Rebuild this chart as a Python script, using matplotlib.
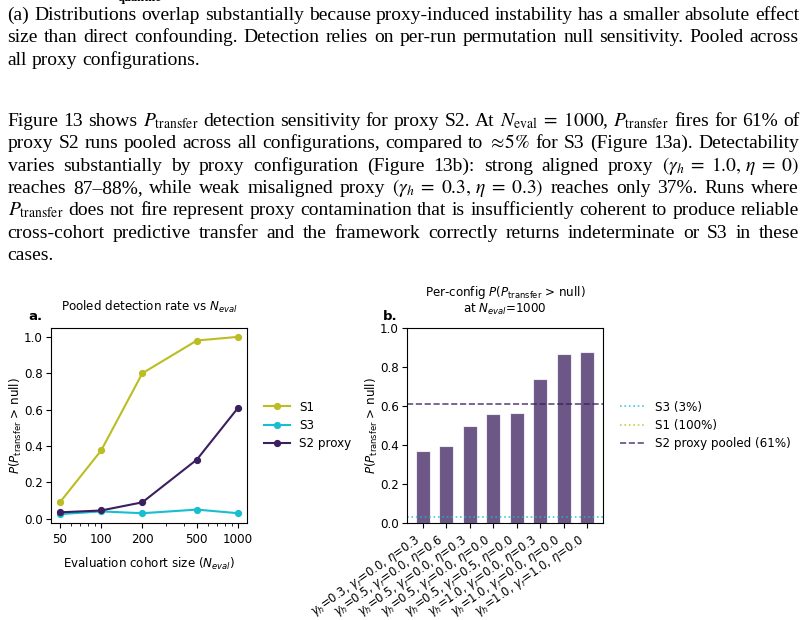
import matplotlib
matplotlib.use("Agg")
import matplotlib.pyplot as plt
import matplotlib.transforms as mtransforms
from matplotlib.ticker import FixedLocator, FixedFormatter, NullFormatter

# ---------------- data ----------------
n_eval = [50, 100, 200, 500, 1000]
s1_rate = [0.09, 0.375, 0.80, 0.98, 1.00]
s3_rate = [0.025, 0.04, 0.03, 0.05, 0.03]
s2_rate = [0.035, 0.045, 0.09, 0.325, 0.61]

config_gamma_h = ["0.3", "0.5", "0.5", "0.5", "0.5", "1.0", "1.0", "1.0"]
config_gamma_r = ["0.0", "0.0", "0.0", "0.0", "0.5", "0.0", "0.0", "1.0"]
config_eta = ["0.3", "0.6", "0.3", "0.0", "0.0", "0.3", "0.0", "0.0"]
config_rate = [0.367, 0.397, 0.497, 0.560, 0.563, 0.740, 0.866, 0.877]

ref_s3 = 0.03
ref_s1 = 1.00
ref_s2_pooled = 0.61

para1 = [
    "(a) Distributions overlap substantially because proxy-induced instability has a smaller absolute effect",
    "size than direct confounding. Detection relies on per-run permutation null sensitivity. Pooled across",
    "all proxy configurations.",
]
para2 = [
    r"Figure 13 shows $P_{\mathrm{transfer}}$ detection sensitivity for proxy S2. At $N_{\mathrm{eval}}\;=\;1000$, $P_{\mathrm{transfer}}$ fires for 61% of",
    r"proxy S2 runs pooled across all configurations, compared to $\approx\!5\%$ for S3 (Figure 13a). Detectability",
    r"varies substantially by proxy configuration (Figure 13b): strong aligned proxy $(\gamma_h\;=\;1.0,\,\eta\;=\;0)$",
    r"reaches 87–88%, while weak misaligned proxy $(\gamma_h\;=\;0.3,\,\eta\;=\;0.3)$ reaches only 37%. Runs where",
    r"$P_{\mathrm{transfer}}$ does not fire represent proxy contamination that is insufficiently coherent to produce reliable",
    r"cross-cohort predictive transfer and the framework correctly returns indeterminate or S3 in these",
    r"cases.",
]

# ---------------- figure ----------------
W, H = 807, 620
fig = plt.figure(figsize=(W / 100, H / 100), dpi=100)
ident = mtransforms.IdentityTransform()

c_s1 = "#bcbd22"
c_s3 = "#17becf"
c_s2 = "#3b1f5e"
fs = 8.6

# ---------- body text (justified) ----------
def tokenize(line):
    toks, cur, inmath = [], "", False
    for ch in line:
        if ch == "$":
            inmath = not inmath
        if ch == " " and not inmath:
            if cur:
                toks.append(cur)
            cur = ""
        else:
            cur += ch
    if cur:
        toks.append(cur)
    return toks

x0, x1 = 7.5, 799.0
lines = []  # (tokens, baseline_px, justify)
base1 = [20.0, 42.3, 64.7]
base2 = [126.0, 148.3, 170.7, 193.0, 215.3, 237.7, 260.0]
for i, l in enumerate(para1):
    lines.append((tokenize(l), base1[i], i < len(para1) - 1))
for i, l in enumerate(para2):
    lines.append((tokenize(l), base2[i], i < len(para2) - 1))

renderer = fig.canvas.get_renderer()
body_fs = 16.0
objs = []
for toks, yb, just in lines:
    row = [fig.text(0, 0, t, transform=ident, fontfamily="Liberation Serif",
                    math_fontfamily="stix", fontsize=body_fs,
                    ha="left", va="baseline") for t in toks]
    objs.append(row)

def widths(row):
    return [t.get_window_extent(renderer).width for t in row]

# pick the largest font size for which every justified line fits with normal spaces
need = 0.0
for (toks, yb, just), row in zip(lines, objs):
    if just:
        em = body_fs * 100 / 72
        tot = sum(widths(row)) + (len(row) - 1) * 0.25 * em
        need = max(need, tot / (x1 - x0))
body_fs = min(14.0, body_fs / need)
for row in objs:
    for t in row:
        t.set_fontsize(body_fs)

space = 0.25 * body_fs * 100 / 72
for (toks, yb, just), row in zip(lines, objs):
    ws = widths(row)
    if just and len(row) > 1:
        gap = (x1 - x0 - sum(ws)) / (len(row) - 1)
    else:
        gap = space
    x = x0
    for t, w in zip(row, ws):
        t.set_position((x, H - yb))
        x += w + gap

# clipped fragment at the very top (cut off in the reference too)
fig.text(118, H - 1.0, "quantile", transform=ident, fontfamily="Liberation Serif",
         fontweight="bold", fontsize=9, ha="left", va="baseline")

# ---------- panel a ----------
axa = fig.add_axes([51 / W, 1 - 523 / H, 196 / W, 195 / H])
axa.plot(n_eval, s1_rate, "-o", color=c_s1, lw=1.5, ms=4.2, label="S1")
axa.plot(n_eval, s3_rate, "-o", color=c_s3, lw=1.5, ms=4.2, label="S3")
axa.plot(n_eval, s2_rate, "-o", color=c_s2, lw=1.5, ms=4.2, label="S2 proxy")
axa.set_xscale("log")
axa.xaxis.set_major_locator(FixedLocator(n_eval))
axa.xaxis.set_major_formatter(FixedFormatter([str(v) for v in n_eval]))
axa.xaxis.set_minor_formatter(NullFormatter())
axa.set_yticks([0.0, 0.2, 0.4, 0.6, 0.8, 1.0])
axa.tick_params(labelsize=fs)
axa.tick_params(axis="y", pad=2.5)
axa.set_xlabel(r"Evaluation cohort size ($N_{eval}$)", fontsize=fs, labelpad=7)
axa.set_ylabel(r"$P(P_{\mathrm{transfer}}$ > null)", fontsize=fs, labelpad=-0.5)
axa.set_title(r"Pooled detection rate vs $N_{eval}$", fontsize=fs, pad=12)
axa.legend(loc="center left", bbox_to_anchor=(1.03, 0.5), frameon=False,
           fontsize=fs, handlelength=2.2, labelspacing=0.45)
fig.text(28, H - 320, "a.", transform=ident, fontsize=9.5, fontweight="bold",
         ha="left", va="baseline")

# ---------- panel b ----------
axb = fig.add_axes([407 / W, 1 - 523 / H, 196 / W, 195 / H])
xpos = list(range(len(config_rate)))
axb.bar(xpos, config_rate, width=0.6, color=c_s2, alpha=0.75,
        edgecolor="white", linewidth=0.8)
axb.axhline(ref_s3, color=c_s3, ls=":", lw=1.2, alpha=0.8, label="S3 (3%)")
axb.axhline(ref_s1, color=c_s1, ls=":", lw=1.2, alpha=0.8, label="S1 (100%)")
axb.axhline(ref_s2_pooled, color=c_s2, ls="--", lw=1.2, alpha=0.8,
            label="S2 proxy pooled (61%)")
axb.set_ylim(0, 1.0)
axb.set_yticks([0.0, 0.2, 0.4, 0.6, 0.8, 1.0])
labels = [rf"$\gamma_h$={a}, $\gamma_r$={b}, $\eta$={c}"
          for a, b, c in zip(config_gamma_h, config_gamma_r, config_eta)]
axb.set_xticks(xpos)
axb.set_xticklabels(labels, rotation=35, ha="right", fontsize=8.3)
axb.tick_params(axis="y", labelsize=fs, pad=2.5)
axb.set_ylabel(r"$P(P_{\mathrm{transfer}}$ > null)", fontsize=fs, labelpad=-0.5)
axb.set_title("Per-config $P(P_{\\mathrm{transfer}}$ > null)\nat $N_{eval}$=1000",
              fontsize=fs, pad=11, linespacing=1.05)
axb.legend(loc="center left", bbox_to_anchor=(1.03, 0.5), frameon=False,
           fontsize=fs, handlelength=2.2, labelspacing=0.45)
fig.text(383, H - 320, "b.", transform=ident, fontsize=9.5, fontweight="bold",
         ha="left", va="baseline")

fig.savefig("out.png", dpi=100)
